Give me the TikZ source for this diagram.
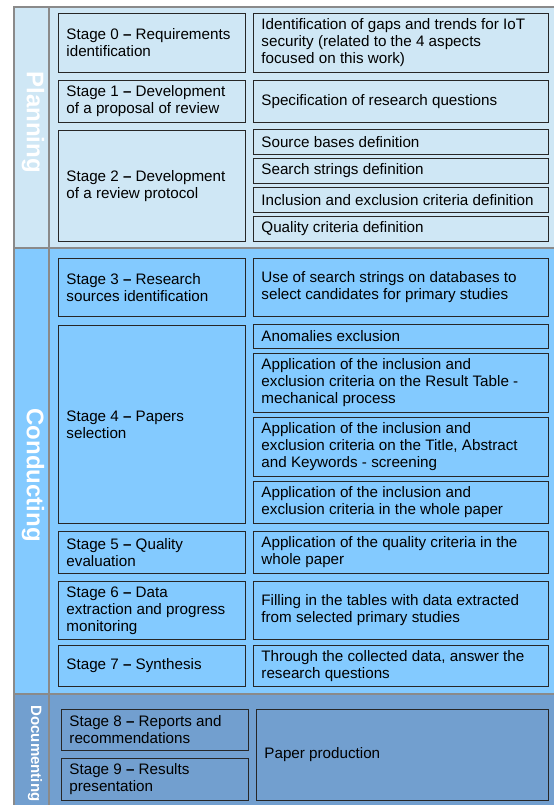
\documentclass[tikz,border=0pt]{standalone}
\usepackage{fontspec}
\setmainfont{Liberation Sans}
\definecolor{planfill}{HTML}{CFE7F5}
\definecolor{condfill}{HTML}{83CAFF}
\definecolor{docfill}{HTML}{729FCF}
\definecolor{framegray}{HTML}{8A8A8A}
\hyphenpenalty=10000
\exhyphenpenalty=10000

\begin{document}
\begin{tikzpicture}[x=1pt, y=-1pt,
    box/.style={draw=black!85, line width=0.9pt, anchor=north west, align=flush left,
      inner xsep=8pt, inner ysep=0pt, font=\fontsize{15.2}{17}\selectfont},
    leftbox/.style={box, minimum width=187pt, text width=171pt,
      execute at begin node={\rightskip=2pt plus 1fil}},
    rightbox/.style={box, minimum width=295pt, text width=279pt,
      execute at begin node={\rightskip=5pt plus 1fil}},
    phase/.style={text=white, font=\bfseries\fontsize{24}{28}\selectfont, rotate=-90}]
    \clip (0,0) rectangle (555,805);
    % Phase bands
    \fill [planfill] (14,7) rectangle (554,248);
    \fill [condfill] (14,248) rectangle (554,694);
    \fill [docfill] (14,694) rectangle (554,830);
    \draw [framegray, line width=1.2pt] (554,7) -- (14,7) -- (14,830);
    \draw [framegray, line width=1.2pt] (14,248) -- (554,248);
    \draw [framegray, line width=1.2pt] (14,694) -- (554,694);
    \draw [framegray, line width=1.2pt] (49,7) -- (49,830);
    \node [phase] (planning) at (33,122) {Planning};
    \node [phase] (conducting) at (33,475) {Conducting};
    \node [phase, anchor=west, font=\bfseries\fontsize{15}{18}\selectfont]
      (documenting) at (35,702) {Documenting};

    % Planning
    \node [leftbox, minimum height=59pt] (s0) at (58,13) {Stage 0 \textbf{–} Requirements identification};
    \node [rightbox, minimum height=59pt] (r0) at (253,13) {Identification of gaps and trends for IoT security (related to the 4 aspects focused on this work)};
    \node [leftbox, minimum height=42pt] (s1) at (58,80) {Stage 1 \textbf{–} Development of a proposal of review};
    \node [rightbox, minimum height=42pt] (r1) at (253,80) {Specification of research questions};
    \node [leftbox, minimum height=111pt] (s2) at (58,130) {Stage 2 \textbf{–} Development of a review protocol};
    \node [rightbox, minimum height=25pt] (r2a) at (253,129) {Source bases definition};
    \node [rightbox, minimum height=25pt] (r2b) at (253,158) {Search strings definition};
    \node [rightbox, minimum height=25pt] (r2c) at (253,187) {Inclusion and exclusion criteria definition};
    \node [rightbox, minimum height=25pt] (r2d) at (253,216) {Quality criteria definition};

    % Conducting
    \node [leftbox, minimum height=58pt] (s3) at (58,258) {Stage 3 \textbf{–} Research sources identification};
    \node [rightbox, minimum height=58pt] (r3) at (253,258) {Use of search strings on databases to select candidates for primary studies};
    \node [leftbox, minimum height=198pt] (s4) at (58,325) {Stage 4 \textbf{–} Papers selection};
    \node [rightbox, minimum height=24pt] (r4a) at (253,324) {Anomalies exclusion};
    \node [rightbox, minimum height=59pt] (r4b) at (253,353) {Application of the inclusion and exclusion criteria on the Result Table - mechanical process};
    \node [rightbox, minimum height=59pt] (r4c) at (253,417) {Application of the inclusion and exclusion criteria on the Title, Abstract and Keywords - screening};
    \node [rightbox, minimum height=42pt] (r4d) at (253,481) {Application of the inclusion and exclusion criteria in the whole paper};
    \node [leftbox, minimum height=42pt] (s5) at (58,531) {Stage 5 \textbf{–} Quality evaluation};
    \node [rightbox, minimum height=42pt] (r5) at (253,531) {Application of the quality criteria in the whole paper};
    \node [leftbox, minimum height=58pt] (s6) at (58,581) {Stage 6 \textbf{–} Data extraction and progress monitoring};
    \node [rightbox, minimum height=58pt] (r6) at (253,581) {Filling in the tables with data extracted from selected primary studies};
    \node [leftbox, minimum height=41pt] (s7) at (58,645) {Stage 7 \textbf{–} Synthesis};
    \node [rightbox, minimum height=41pt] (r7) at (253,645) {Through the collected data, answer the research questions};

    % Documenting
    \node [leftbox, minimum height=41pt] (s8) at (61,709) {Stage 8 \textbf{–} Reports and recommendations};
    \node [leftbox, minimum height=42pt] (s9) at (61,758) {Stage 9 \textbf{–} Results presentation};
    \node [box, minimum width=292pt, text width=276pt, minimum height=91pt] (paper) at (256,709) {Paper production};
\end{tikzpicture}
\end{document}
